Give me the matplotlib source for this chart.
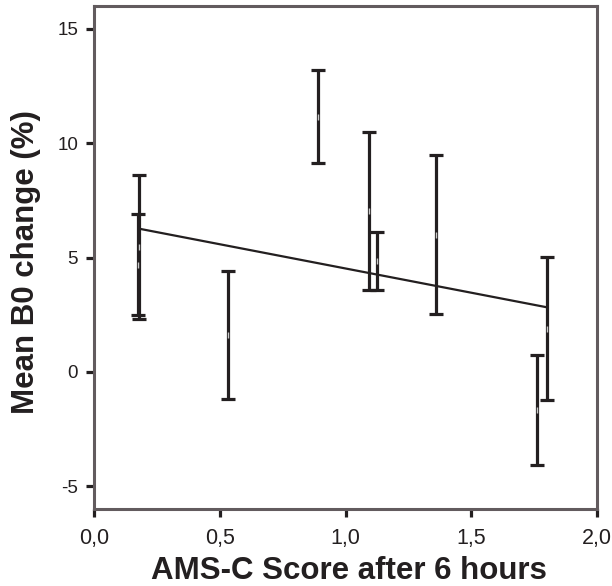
import numpy as np
import matplotlib
matplotlib.use("Agg")
from matplotlib import pyplot as plt

# AMS-C score (x) and error bar ends for B0 change
ams_score = [0.173, 0.18, 0.534, 0.892, 1.095, 1.124, 1.36, 1.763, 1.80]
bar_top = [6.90, 8.61, 4.41, 13.21, 10.49, 6.10, 9.47, 0.72, 5.01]
bar_bottom = [2.47, 2.30, -1.21, 9.12, 3.58, 3.58, 2.51, -4.09, -1.25]

# fitted regression line
fit_slope = -2.12
fit_intercept = 6.64
fit_range = [0.186, 1.80]

plt.rcParams['font.family'] = ['Liberation Sans', 'DejaVu Sans']

x = np.array(ams_score)
top = np.array(bar_top)
bot = np.array(bar_bottom)
mean = (top + bot) / 2
err = (top - bot) / 2

fig = plt.figure(figsize=(6.12, 5.86), dpi=100)
ax = fig.add_axes([94 / 612, 1 - 509 / 586, (597 - 94) / 612, (509 - 6) / 586])

ink = '#231f20'
ax.errorbar(x, mean, yerr=err, fmt='none', ecolor=ink, elinewidth=2.3,
            capsize=4.7, capthick=2.3)
ax.plot(x, mean, linestyle='none', marker='|', color='#c8c8c8', ms=4, mew=1)

fx = np.array(fit_range)
ax.plot(fx, fit_intercept + fit_slope * fx, color=ink, lw=1.6)

ax.set_xlim(0, 2)
ax.set_ylim(-6, 16)
ax.set_xticks([0, 0.5, 1.0, 1.5, 2.0])
ax.set_xticklabels(['0,0', '0,5', '1,0', '1,5', '2,0'])
ax.set_yticks([-5, 0, 5, 10, 15])
ax.set_yticklabels(['-5', '0', '5', '10', '15'])

for s in ax.spines.values():
    s.set_color('#625b5e')
    s.set_linewidth(2.2)
ax.tick_params(direction='out', length=6, width=2.3, color=ink, labelcolor=ink)
ax.tick_params(axis='x', labelsize=15.5, pad=8)
ax.tick_params(axis='y', labelsize=13.5, pad=5.5)

ax.set_xlabel('AMS-C Score after 6 hours', fontsize=22.5, fontweight='bold',
              color=ink)
ax.set_ylabel('Mean B0 change (%)', fontsize=22.5, fontweight='bold',
              color=ink)
ax.xaxis.set_label_coords(0.506, -0.094)
ax.yaxis.set_label_coords(-0.106, 0.49)

fig.savefig('out.png', dpi=100)
